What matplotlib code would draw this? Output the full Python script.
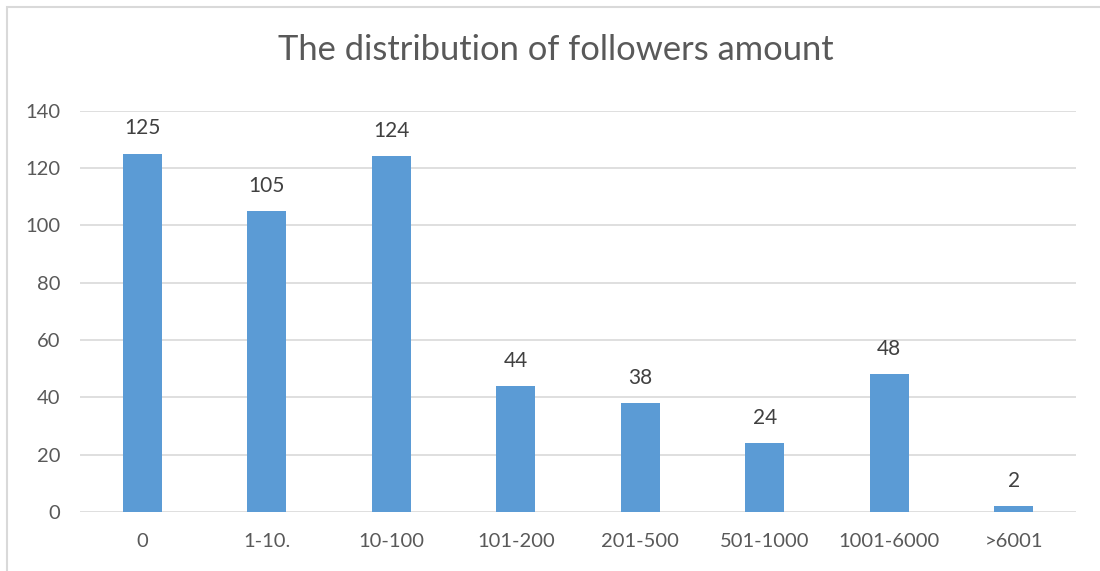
import matplotlib.pyplot as plt
from matplotlib.patches import Rectangle

categories = ["0", "1-10.", "10-100", "101-200", "201-500", "501-1000", "1001-6000", ">6001"]
followers = [125, 105, 124, 44, 38, 24, 48, 2]
y_ticks = [0, 20, 40, 60, 80, 100, 120, 140]

plt.rcParams['font.family'] = ['Lato', 'DejaVu Sans']

fig = plt.figure(figsize=(11, 5.71), dpi=100)
ax = fig.add_axes([0.0727, 0.1033, 0.9055, 0.703])

x = range(len(categories))
bars = ax.bar(x, followers, width=0.31, color="#5b9bd5", zorder=3)

for b, v in zip(bars, followers):
    ax.annotate(str(v), (b.get_x() + b.get_width() / 2, b.get_height()),
                xytext=(0, 11), textcoords="offset points",
                ha="center", va="bottom", fontsize=15, color="#404040")

ax.set_xlim(-0.5, len(categories) - 0.5)
ax.set_ylim(0, 140)
ax.set_yticks(y_ticks)
ax.set_xticks(list(x))
ax.set_xticklabels(categories)
ax.tick_params(axis="both", length=0, labelsize=14.5, labelcolor="#595959")
ax.tick_params(axis="y", pad=14)
ax.tick_params(axis="x", pad=15)
ax.grid(axis="y", color="#d9d9d9", linewidth=1.2, zorder=0)
for s in ax.spines.values():
    s.set_visible(False)

# title centred on the whole chart area
fig.text(0.505, 0.912, "The distribution of followers amount", fontsize=24.8,
         color="#595959", ha="center", va="center")

# light chart-area frame
fig.patches.append(Rectangle((7 / 1100, -0.1), 1.2, 1 - 7 / 571 + 0.1,
                             transform=fig.transFigure, fill=False,
                             edgecolor="#d9d9d9", linewidth=1.5))

fig.savefig("out.png", dpi=100, facecolor="white")
